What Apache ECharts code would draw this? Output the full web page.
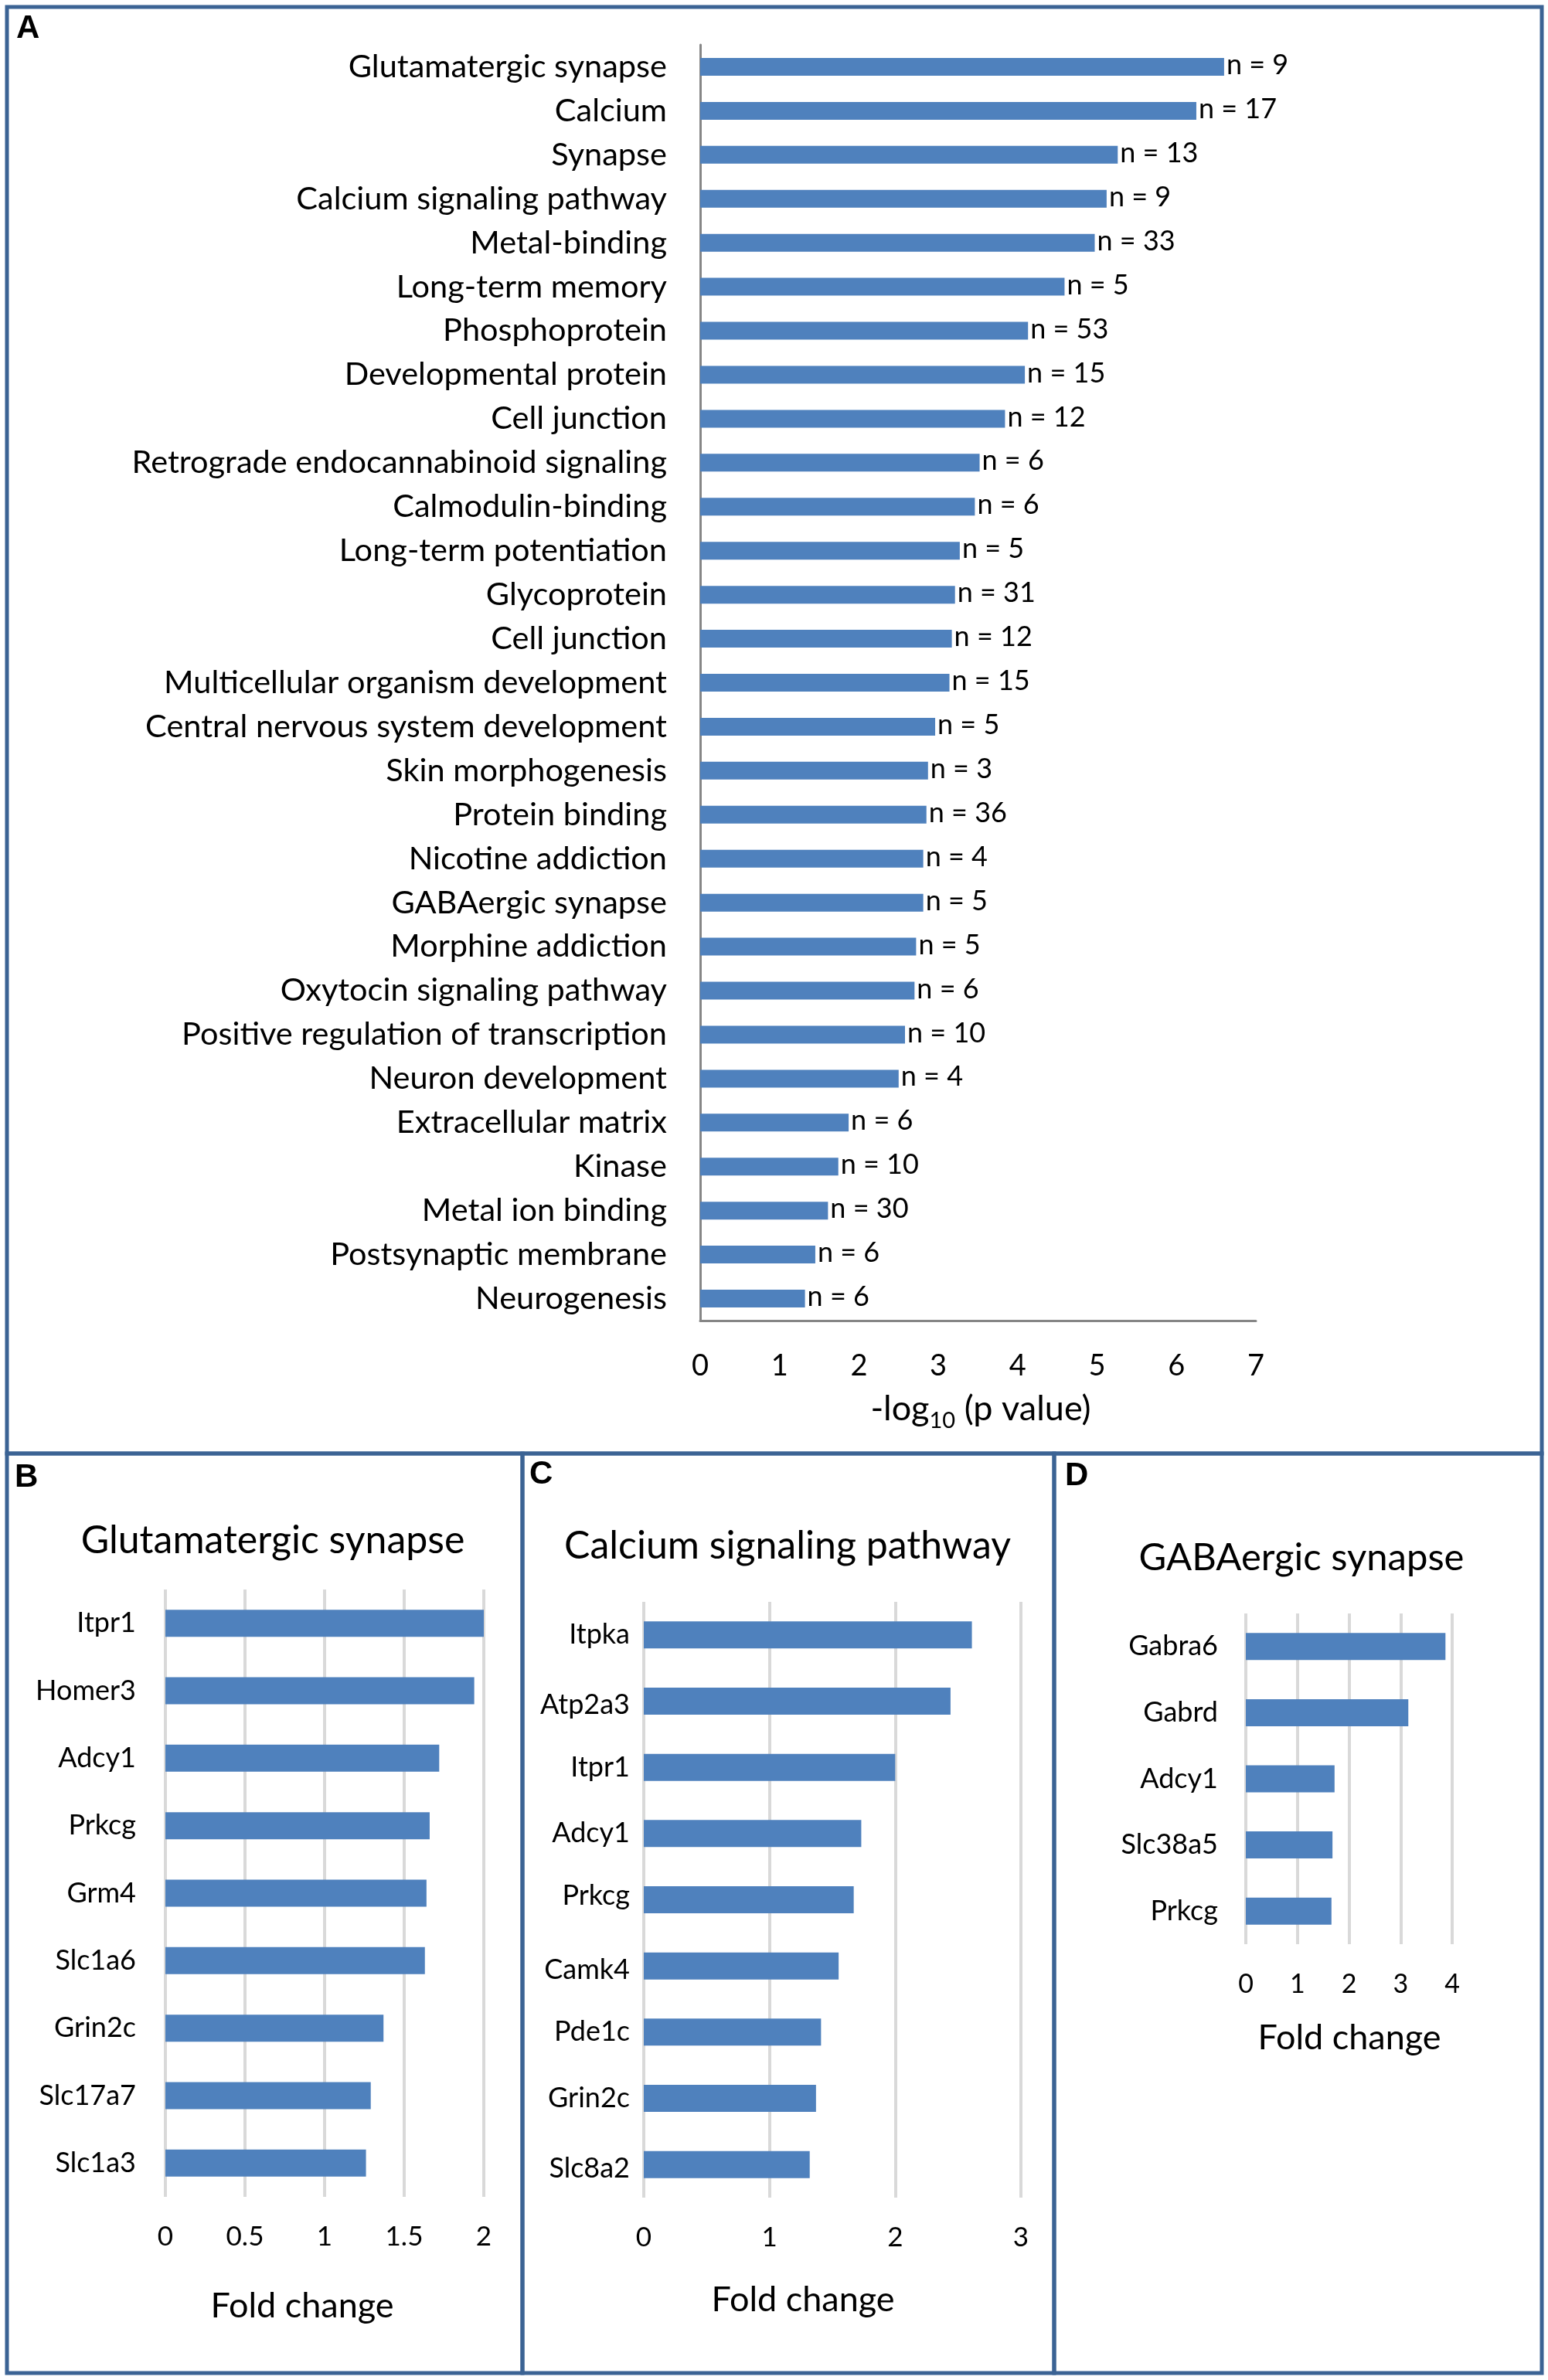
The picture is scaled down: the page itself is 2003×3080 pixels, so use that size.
<!DOCTYPE html>
<html>
<head>
<meta charset="utf-8">
<title>Enrichment and fold change</title>
<script src="https://cdn.jsdelivr.net/npm/echarts@6/dist/echarts.min.js"></script>
<style>
html, body { margin: 0; padding: 0; background: #fff; }
#main { width: 2003px; height: 3080px; }
</style>
</head>
<body>
<div id="main"></div>
<script>
var termNames = ['Glutamatergic synapse', 'Calcium', 'Synapse', 'Calcium signaling pathway', 'Metal-binding',
    'Long-term memory', 'Phosphoprotein', 'Developmental protein', 'Cell junction',
    'Retrograde endocannabinoid signaling', 'Calmodulin-binding', 'Long-term potentiation', 'Glycoprotein',
    'Cell junction', 'Multicellular organism development', 'Central nervous system development',
    'Skin morphogenesis', 'Protein binding', 'Nicotine addiction', 'GABAergic synapse', 'Morphine addiction',
    'Oxytocin signaling pathway', 'Positive regulation of transcription', 'Neuron development',
    'Extracellular matrix', 'Kinase', 'Metal ion binding', 'Postsynaptic membrane', 'Neurogenesis'];
var termValues = [6.6, 6.25, 5.26, 5.12, 4.97, 4.59, 4.13, 4.09, 3.84, 3.52, 3.46, 3.27, 3.21, 3.17, 3.14,
    2.96, 2.87, 2.85, 2.81, 2.81, 2.72, 2.70, 2.58, 2.50, 1.87, 1.74, 1.61, 1.45, 1.32];
var termCounts = [9, 17, 13, 9, 33, 5, 53, 15, 12, 6, 6, 5, 31, 12, 15, 5, 3, 36, 4, 5, 5, 6, 10, 4, 6, 10, 30, 6, 6];

var glutGenes = ['Itpr1', 'Homer3', 'Adcy1', 'Prkcg', 'Grm4', 'Slc1a6', 'Grin2c', 'Slc17a7', 'Slc1a3'];
var glutValues = [2.0, 1.94, 1.72, 1.66, 1.64, 1.63, 1.37, 1.29, 1.26];

var calcGenes = ['Itpka', 'Atp2a3', 'Itpr1', 'Adcy1', 'Prkcg', 'Camk4', 'Pde1c', 'Grin2c', 'Slc8a2'];
var calcValues = [2.61, 2.44, 2.0, 1.73, 1.67, 1.55, 1.41, 1.37, 1.32];

var gabaGenes = ['Gabra6', 'Gabrd', 'Adcy1', 'Slc38a5', 'Prkcg'];
var gabaValues = [3.87, 3.15, 1.72, 1.68, 1.66];

var barColor = '#4f81bd';
var frameColor = '#3b6394';
var font = 'Lato';

var myChart = echarts.init(document.getElementById('main'), null, { renderer: 'canvas' });

function catAxis(idx, names, size, margin, line) {
    return {
        type: 'category', gridIndex: idx, data: names, inverse: true,
        axisLine: line ? { show: true, lineStyle: { color: '#868686', width: 3 } } : { show: false },
        axisTick: { show: false },
        axisLabel: { color: '#000', fontFamily: font, fontSize: size, margin: margin, interval: 0 }
    };
}

function valAxis(idx, max, step, size, margin, grid) {
    return {
        type: 'value', gridIndex: idx, min: 0, max: max, interval: step,
        axisLine: grid ? { show: false } : { show: true, onZero: false, lineStyle: { color: '#868686', width: 3 } },
        axisTick: { show: false },
        splitLine: { show: grid, lineStyle: { color: '#d9d9d9', width: 4 } },
        axisLabel: { color: '#000', fontFamily: font, fontSize: size, margin: margin }
    };
}

function caption(text, x, y, size) {
    return {
        text: text, left: x, top: y, padding: 0, textAlign: 'center', textVerticalAlign: 'middle',
        textStyle: { color: '#000', fontFamily: font, fontWeight: 'normal', fontSize: size }
    };
}

function letter(text, x, y) {
    return {
        text: text, left: x, top: y, padding: 0, textAlign: 'left', textVerticalAlign: 'middle',
        textStyle: { color: '#000', fontFamily: 'Liberation Sans', fontWeight: 'bold', fontSize: 42 }
    };
}

function frame(x, y, w, h) {
    return { type: 'rect', shape: { x: x, y: y, width: w, height: h }, silent: true, style: { fill: 'none', stroke: frameColor, lineWidth: 5 } };
}

// panel C labels sit a little off their bars in the original
var calcAxis = catAxis(2, calcGenes, 36, 18, false);
calcAxis.axisLabel.formatter = function (v) {
    if (v === 'Atp2a3' || v === 'Camk4' || v === 'Slc8a2') return '{dn|' + v + '}';
    if (v === 'Prkcg') return '{up|' + v + '}';
    return v;
};
calcAxis.axisLabel.rich = {
    dn: { color: '#000', fontFamily: font, fontSize: 36, padding: [10, 0, 0, 0] },
    up: { color: '#000', fontFamily: font, fontSize: 36, padding: [0, 0, 10, 0] }
};

var option = {
    backgroundColor: '#fff',
    animation: false,
    title: [
        letter('A', 21, 37), letter('B', 19, 1912), letter('C', 685, 1908), letter('D', 1378, 1910),
        caption('Glutamatergic synapse', 353, 1994, 50),
        caption('Calcium signaling pathway', 1019, 2001, 50),
        caption('GABAergic synapse', 1684, 2016, 49),
        caption('Fold change', 391, 2984, 45),
        caption('Fold change', 1039, 2976, 45),
        caption('Fold change', 1746, 2637, 45),
        {
            text: '{a|-log}{s|10}{a| (p value)}', left: 1269, top: 1823, padding: 0,
            textAlign: 'center', textVerticalAlign: 'middle',
            textStyle: {
                fontWeight: 'normal',
                rich: {
                    a: { color: '#000', fontFamily: font, fontWeight: 'normal', fontSize: 45 },
                    s: { color: '#000', fontFamily: font, fontWeight: 'normal', fontSize: 29, verticalAlign: 'bottom', padding: [32, 0, 0, 0] }
                }
            }
        }
    ],
    grid: [
        { left: 906, top: 58, width: 719, height: 1651 },
        { left: 214, top: 2057, width: 412, height: 786 },
        { left: 833, top: 2073, width: 488, height: 771 },
        { left: 1612, top: 2088, width: 267, height: 428 }
    ],
    xAxis: [
        valAxis(0, 7, 1, 38, 40, false),
        valAxis(1, 2, 0.5, 35, 34, true),
        valAxis(2, 3, 1, 35, 34, true),
        valAxis(3, 4, 1, 34, 35, true)
    ],
    yAxis: [
        catAxis(0, termNames, 41.5, 43, true),
        catAxis(1, glutGenes, 36, 38, false),
        calcAxis,
        catAxis(3, gabaGenes, 36, 36, false)
    ],
    series: [
        {
            name: '-log10 (p value)', type: 'bar', xAxisIndex: 0, yAxisIndex: 0, data: termValues, barWidth: 23,
            itemStyle: { color: barColor },
            label: {
                show: true, position: 'right', distance: 3, offset: [0, -2], color: '#000', fontFamily: font, fontSize: 36,
                formatter: function (p) { return 'n = ' + termCounts[p.dataIndex]; }
            }
        },
        { name: 'Glutamatergic synapse', type: 'bar', xAxisIndex: 1, yAxisIndex: 1, data: glutValues, barWidth: 35, itemStyle: { color: barColor } },
        { name: 'Calcium signaling pathway', type: 'bar', xAxisIndex: 2, yAxisIndex: 2, data: calcValues, barWidth: 35, itemStyle: { color: barColor } },
        { name: 'GABAergic synapse', type: 'bar', xAxisIndex: 3, yAxisIndex: 3, data: gabaValues, barWidth: 35, itemStyle: { color: barColor } }
    ],
    graphic: [
        frame(9, 9, 1986, 1872),
        frame(9, 1881, 667, 1190),
        frame(676, 1881, 688, 1190),
        frame(1364, 1881, 631, 1190)
    ]
};

myChart.setOption(option);
window.addEventListener('resize', myChart.resize);
</script>
</body>
</html>
